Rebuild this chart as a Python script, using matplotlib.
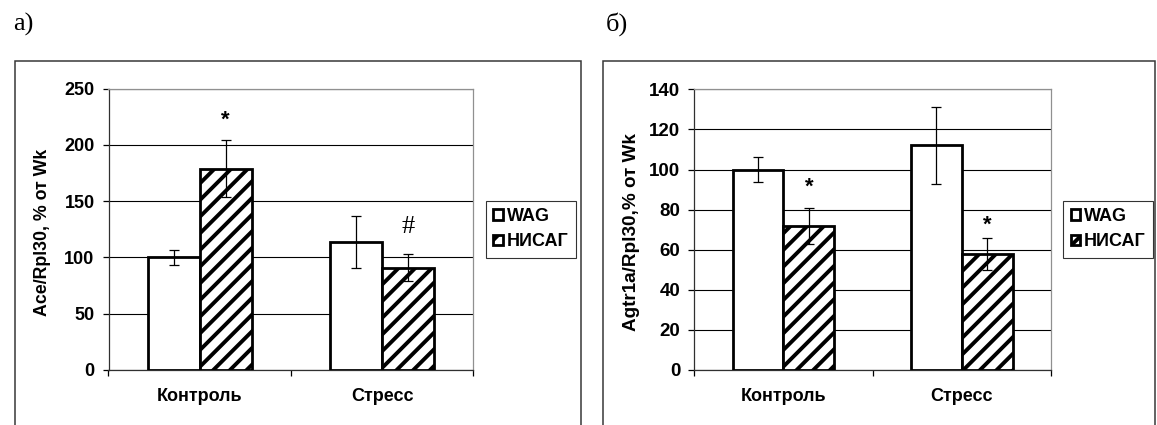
import matplotlib
matplotlib.use("Agg")
import numpy as np
import matplotlib.pyplot as plt
from matplotlib.patches import Patch, Rectangle

# экспрессия генов, % от WAG
groups = ['Контроль', 'Стресс']
strains = ['WAG', 'НИСАГ']

ace_wag = [100, 114]
ace_wag_err = [7, 23]
ace_nisag = [179, 91]
ace_nisag_err = [25, 12]
ace_marks = ['*', '#']
ace_mark_y = [222, 127]

agtr_wag = [100, 112]
agtr_wag_err = [6, 19]
agtr_nisag = [72, 58]
agtr_nisag_err = [9, 8]
agtr_marks = ['*', '*']
agtr_mark_y = [91, 72]

W, H = 1157, 425
SANS = 'Liberation Sans'
SERIF = 'Liberation Serif'

plt.rcParams['font.family'] = [SANS, 'DejaVu Sans']
plt.rcParams['hatch.linewidth'] = 2.8
plt.rcParams['hatch.color'] = 'black'


def px(x0, y0, x1, y1):
    # пиксели -> доли фигуры
    return [x0 / W, 1 - y1 / H, (x1 - x0) / W, (y1 - y0) / H]


def panel(ax, wag, wag_err, nisag, nisag_err, ymax, step, ylabel, marks, mark_y,
          lab_x, tick_fs, lab_fs):
    x = np.arange(len(groups))
    w = 1 / 3.5
    ax.bar(x - w / 2, wag, w, yerr=wag_err, color='white', edgecolor='black',
           linewidth=2.0, capsize=3.6, error_kw=dict(elinewidth=0.9, capthick=0.9),
           zorder=3)
    ax.bar(x + w / 2, nisag, w, yerr=nisag_err, color='white', edgecolor='black',
           hatch='//', linewidth=2.0, capsize=3.6,
           error_kw=dict(elinewidth=0.9, capthick=0.9), zorder=3)
    for xi, m, yi in zip(x, marks, mark_y):
        if m == '#':
            ax.text(xi + w / 2, yi, m, ha='center', va='center', fontsize=19,
                    family=SERIF, zorder=4)
        else:
            ax.text(xi + w / 2, yi, m, ha='center', va='center', fontsize=16,
                    family=SANS, fontweight='bold', zorder=4)

    ax.set_xlim(-0.5, 1.5)
    ax.set_ylim(0, ymax)
    ax.set_yticks(np.arange(0, ymax + 1, step))
    ax.yaxis.grid(True, color='black', linewidth=0.8)
    ax.set_axisbelow(True)
    ax.set_xticks(x)
    ax.set_xticklabels(groups, fontsize=13, fontweight='bold')
    ax.set_xticks([-0.5, 0.5, 1.5], minor=True)
    ax.tick_params(axis='x', which='major', length=0, pad=13)
    ax.tick_params(axis='x', which='minor', length=4, width=0.9, direction='out')
    ax.tick_params(axis='y', length=4, width=0.9, pad=6, labelsize=tick_fs)
    for t in ax.get_yticklabels():
        t.set_fontweight('bold')
    ax.spines['top'].set_color('#909090')
    ax.spines['right'].set_color('#909090')
    ax.spines['left'].set_color('#303030')
    ax.spines['bottom'].set_color('#303030')
    for s in ax.spines.values():
        s.set_linewidth(0.9)
    ax.set_ylabel(ylabel, fontsize=lab_fs, fontweight='bold')
    ax.yaxis.label.set_verticalalignment('center')
    ax.yaxis.set_label_coords(lab_x, 0.49)


fig = plt.figure(figsize=(W / 100, H / 100), dpi=100)

# рамки вокруг панелей
for x0, x1 in [(15, 580.5), (602.5, 1154.5)]:
    fig.patches.append(Rectangle((x0 / W, -0.05), (x1 - x0) / W, 1 - 61 / H + 0.05,
                                 transform=fig.transFigure, fill=False,
                                 edgecolor='#383838', linewidth=1.1))

ax1 = fig.add_axes(px(108.5, 88.7, 473.3, 370))
panel(ax1, ace_wag, ace_wag_err, ace_nisag, ace_nisag_err, 250, 50,
      'Ace/Rpl30, % от Wk', ace_marks, ace_mark_y, (43 - 108.5) / 364.8, 13, 12.8)

ax2 = fig.add_axes(px(694.3, 89.3, 1051, 370))
panel(ax2, agtr_wag, agtr_wag_err, agtr_nisag, agtr_nisag_err, 140, 20,
      'Agtr1a/Rpl30,% от Wk', agtr_marks, agtr_mark_y, (632 - 694.3) / 356.7, 13.5, 13.6)

handles = [Patch(facecolor='white', edgecolor='black', linewidth=2.0),
           Patch(facecolor='white', edgecolor='black', linewidth=2.0, hatch='//')]
for x0 in (486, 1063.3):
    leg = fig.legend(handles, strains, loc='upper left',
                     bbox_to_anchor=(x0 / W, 1 - 201 / H),
                     prop=dict(family=SANS, weight='bold', size=13),
                     frameon=True, fancybox=False, borderpad=0.4,
                     handlelength=0.55, handleheight=0.55, handletextpad=0.2,
                     labelspacing=0.45, borderaxespad=0)
    leg.get_frame().set_edgecolor('black')
    leg.get_frame().set_linewidth(0.8)

fig.text(13 / W, 1 - 31 / H, 'а)', family=SERIF, fontsize=19, ha='left', va='baseline')
fig.text(606 / W, 1 - 31 / H, 'б)', family=SERIF, fontsize=19, ha='left', va='baseline')

fig.savefig('out.png', dpi=100)
